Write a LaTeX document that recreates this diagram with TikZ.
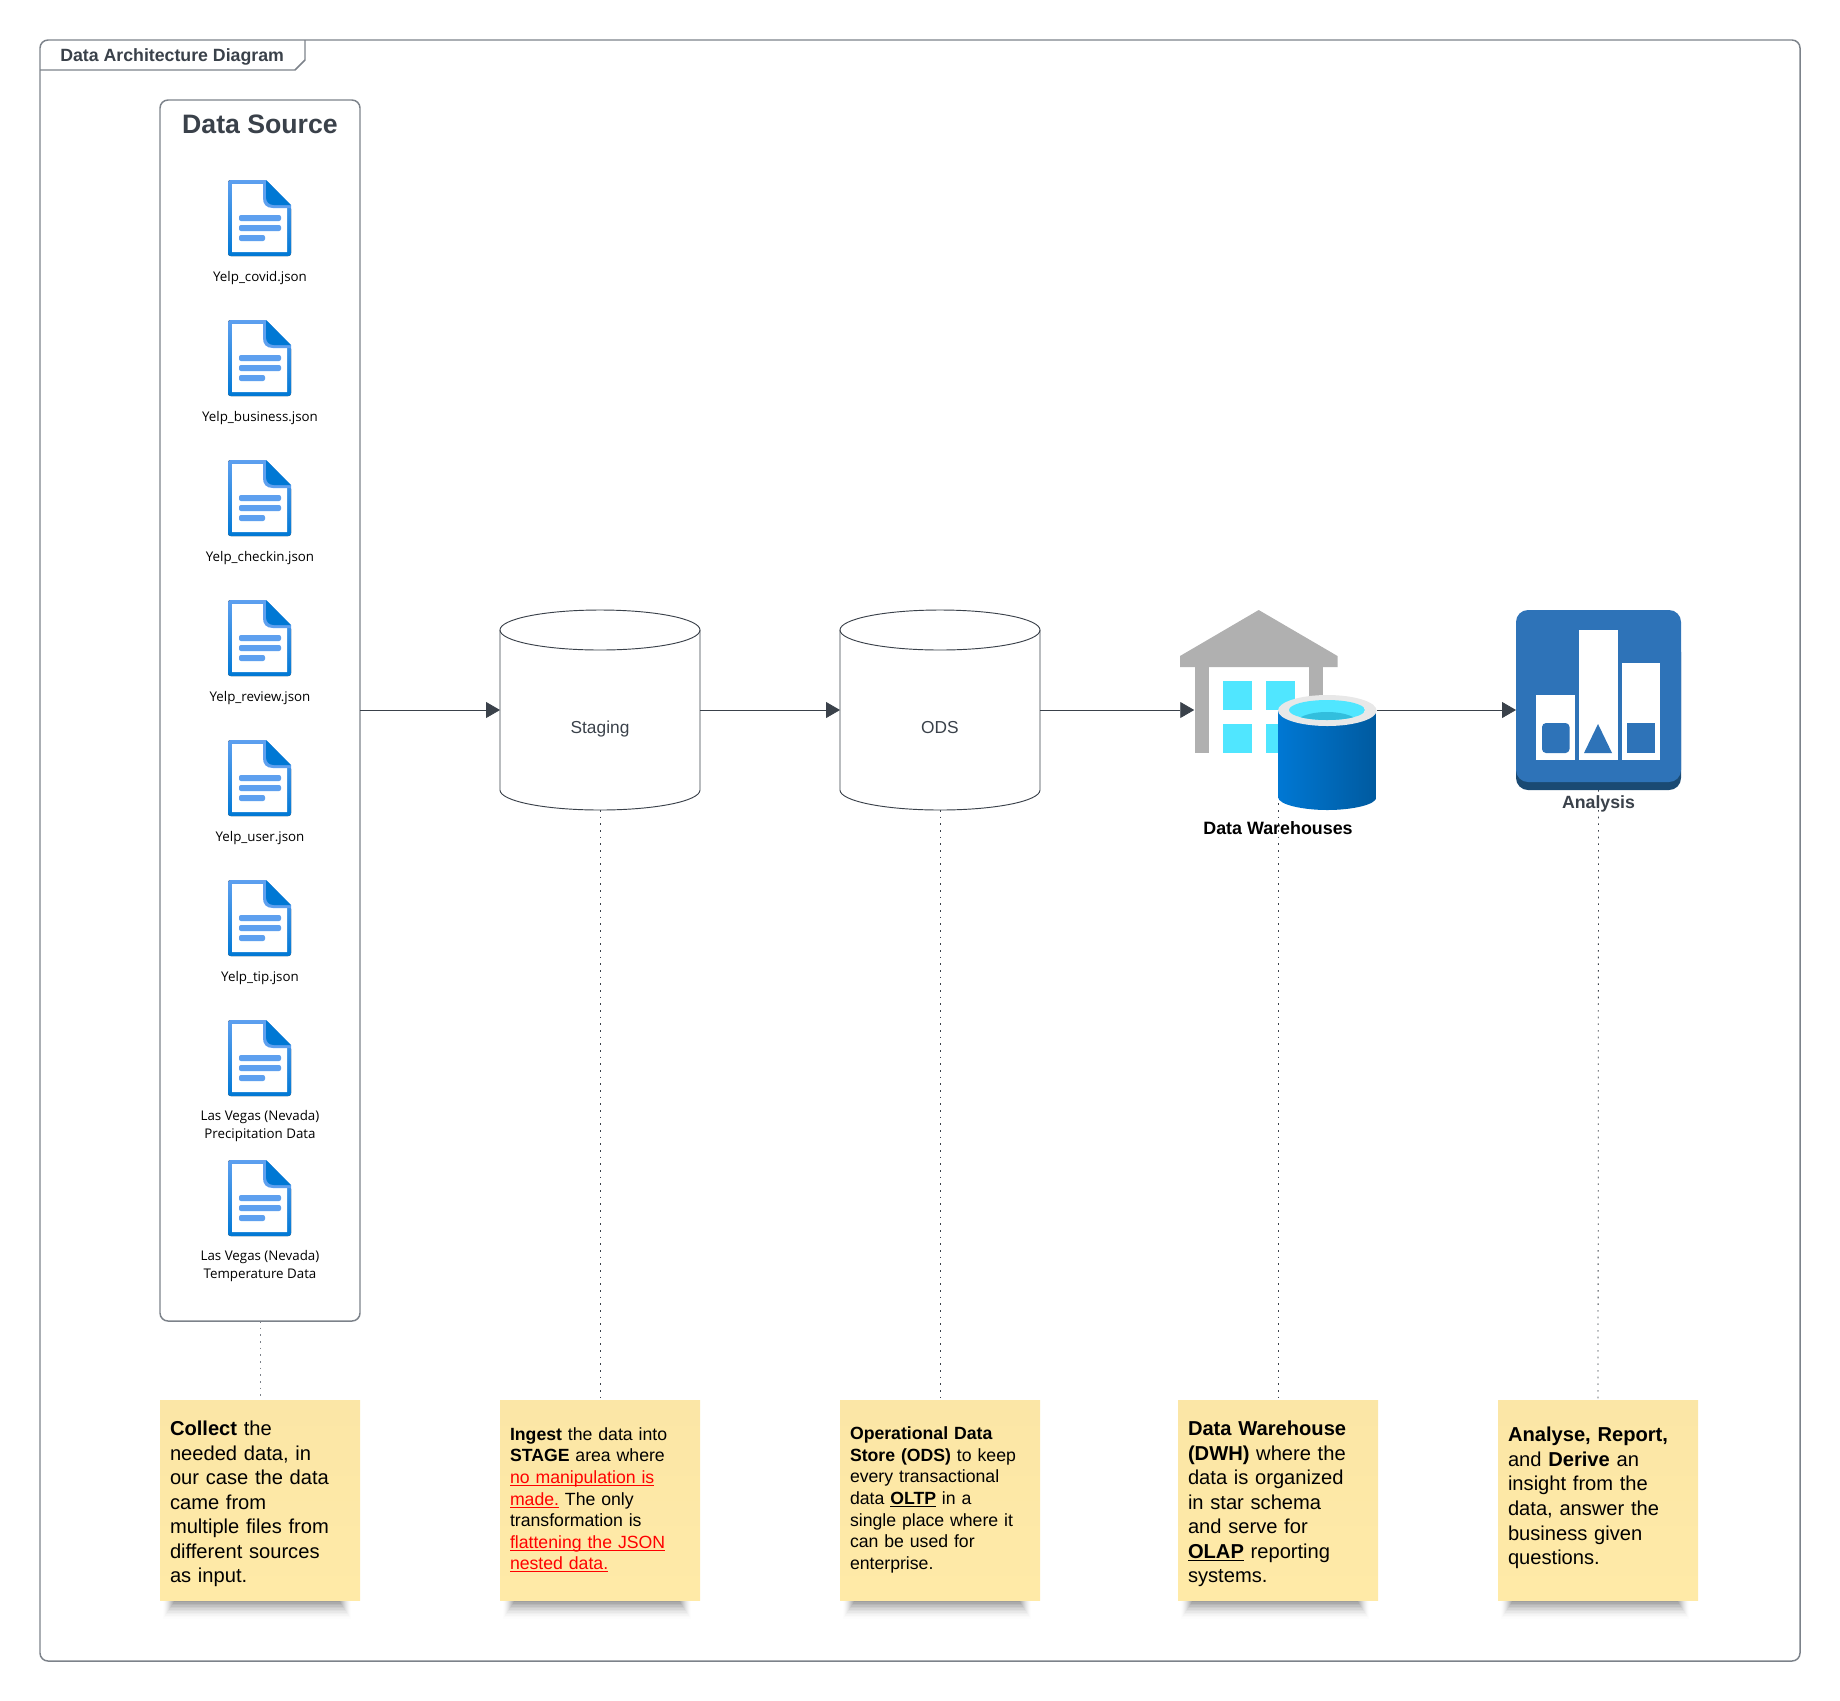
\documentclass[tikz,border=0pt]{standalone}
\usepackage{fontspec}
\setmainfont{Liberation Sans}
\newfontfamily\filefont{Open Sans}
\usetikzlibrary{arrows.meta}
\definecolor{slate}{HTML}{3A414A}
\definecolor{edgegrey}{HTML}{7C828A}
\definecolor{docblue}{HTML}{0078D4}
\definecolor{doclight}{HTML}{5EA0EF}
\definecolor{roofgrey}{HTML}{B0B0B0}
\definecolor{wincyan}{HTML}{50E6FF}
\definecolor{wintide}{HTML}{32BEDD}
\definecolor{anablue}{HTML}{2E73B8}
\definecolor{anadark}{HTML}{1A4A73}
\definecolor{notetop}{HTML}{FBE6A6}
\definecolor{notebot}{HTML}{FFEAA7}
\newcommand{\undl}[1]{\underline{\smash{#1}}}
\newcommand{\noteshade}[1]{%
  \foreach \s [evaluate=\s as \o using 0.006*\s] in {1,...,12}
    \fill [black, opacity=\o] (#1+2+\s,1596) rectangle (#1+192-\s,1620-1.5*\s);
}
\tikzset{
  docicon/.pic={
    \fill [top color=doclight, bottom color=docblue, rounded corners=2pt]
      (0,0) -- (38,0) -- (63,26) -- (63,76) -- (0,76) -- cycle;
    \fill [white] (4,4) -- (36,4) -- (36,18) -- (44,27) -- (59,27) -- (59,72) -- (4,72) -- cycle;
    \fill [doclight] (35,0) -- (38,0) -- (63,25) -- (63,28) -- (45,28) .. controls (38,28) and (35,24) .. (35,18) -- cycle;
    \fill [docblue] (38,0) -- (63,25) -- (46,25) .. controls (41,25) and (38,22) .. (38,17) -- cycle;
    \fill [doclight, rounded corners=1.5pt] (11,35) rectangle (53,41);
    \fill [doclight, rounded corners=1.5pt] (11,45) rectangle (53,51);
    \fill [doclight, rounded corners=1.5pt] (11,55) rectangle (37,61);
  },
  drumbody/.pic={
    \draw [slate, line width=0.7pt] (0,-80) ellipse [x radius=100, y radius=20];
    \draw [slate, line width=0.7pt] (-100,-80) -- (-100,80) arc [start angle=180, end angle=0, x radius=100, y radius=20] -- (100,-80);
  },
  filelabel/.style={font=\filefont\fontsize{10}{13.5}\selectfont, align=center, inner sep=0pt, text=black},
  drum/.style={minimum width=150pt, minimum height=150pt, inner sep=0pt, outer sep=0pt},
  drumtext/.style={anchor=base, inner sep=0pt, text=slate, font=\fontsize{13}{16}\selectfont},
  flow/.style={draw=slate, line width=0.6pt, -{Triangle[length=10.5pt,width=12pt]}},
  guide/.style={draw=slate, line width=0.6pt, dash pattern=on 1.2pt off 3.8pt},
  notebox/.style={top color=notetop, bottom color=notebot, minimum width=150pt, minimum height=150pt, inner sep=0pt},
  notebig/.style={text width=135pt, inner sep=0pt, align=left, text=black, font=\fontsize{15.1}{18.4}\selectfont},
  notesmall/.style={notebig, font=\fontsize{13.25}{16.2}\selectfont},
}
\begin{document}
\begin{tikzpicture}[x=0.75pt,y=-0.75pt]
\useasboundingbox (0,0) rectangle (1840,1700);
\draw [edgegrey, line width=1.1pt, rounded corners=6pt] (40,40) rectangle (1800,1661);
\draw [edgegrey, line width=1.1pt] (40,70) -- (295,70) -- (305,60) -- (305,40);
\node [anchor=west, inner sep=0pt, text=slate, font=\bfseries\fontsize{13.3}{16}\selectfont] (frametitle) at (60,56.5) {Data Architecture Diagram};
\node [draw=edgegrey, line width=1.1pt, rounded corners=6pt, minimum width=150pt, minimum height=915.75pt, inner sep=0pt, outer sep=0pt] (source) at (260,710.5) {};
\node [text=slate, inner sep=0pt, font=\bfseries\fontsize{20}{24}\selectfont] (sourcetitle) at (260,124) {Data Source};
\pic at (228,180) {docicon};
\pic at (228,320) {docicon};
\pic at (228,460) {docicon};
\pic at (228,600) {docicon};
\pic at (228,740) {docicon};
\pic at (228,880) {docicon};
\pic at (228,1020) {docicon};
\pic at (228,1160) {docicon};
\node [filelabel] (covid) at (260,278) {Yelp\_covid.json};
\node [filelabel] (business) at (260,418) {Yelp\_business.json};
\node [filelabel] (checkin) at (260,558) {Yelp\_checkin.json};
\node [filelabel] (review) at (260,698) {Yelp\_review.json};
\node [filelabel] (user) at (260,838) {Yelp\_user.json};
\node [filelabel] (tip) at (260,978) {Yelp\_tip.json};
\node [filelabel] (precip) at (260,1126) {Las Vegas (Nevada)\\Precipitation Data};
\node [filelabel] (temp) at (260,1266) {Las Vegas (Nevada)\\Temperature Data};
\pic at (600,710) {drumbody};
\pic at (940,710) {drumbody};
\node [drum] (staging) at (600,710) {};
\node [drum] (ods) at (940,710) {};
\node [drumtext] (stagingtext) at (600,733) {Staging};
\node [drumtext] (odstext) at (940,733) {ODS};
\node [minimum width=136.9pt, minimum height=150pt, inner sep=0pt, outer sep=0pt] (dwh) at (1285.5,710) {};
\coordinate (dwhfoot) at (1278.5,790);
\node [minimum width=123.75pt, minimum height=135pt, inner sep=0pt, outer sep=0pt] (analysis) at (1598.5,700) {};
\noteshade{160}
\noteshade{500}
\noteshade{840}
\noteshade{1178}
\noteshade{1498}
\node [notebox] (notecollect) at (260,1500) {};
\node [notebox] (noteingest) at (600,1500) {};
\node [notebox] (noteods) at (940,1500) {};
\node [notebox] (notedwh) at (1278,1500) {};
\node [notebox] (noteana) at (1598,1500) {};
\node [notebig] (textcollect) at (260,1504) {\textbf{Collect} the\\needed data, in\\our case the data\\came from\\multiple files from\\different sources\\as input.};
\node [notesmall] (textingest) at (600,1500) {\textbf{Ingest} the data into\\\textbf{STAGE} area where\\\textcolor{red}{\undl{no manipulation is}}\\\textcolor{red}{\undl{made.}} The only\\transformation is\\\textcolor{red}{\undl{flattening the JSON}}\\\textcolor{red}{\undl{nested data.}}};
\node [notesmall] (textods) at (940,1500) {\textbf{Operational Data}\\\textbf{Store (ODS)} to keep\\every transactional\\data \textbf{\undl{OLTP}} in a\\single place where it\\can be used for\\enterprise.};
\node [notebig] (textdwh) at (1278,1504) {\textbf{Data Warehouse}\\\textbf{(DWH)} where the\\data is organized\\in star schema\\and serve for\\\textbf{\undl{OLAP}} reporting\\systems.};
\node [notebig] (textana) at (1598,1498) {\textbf{Analyse, Report,}\\and \textbf{Derive} an\\insight from the\\data, answer the\\business given\\questions.};
\draw [guide, edgegrey] (source.south) -- (notecollect.north);
\draw [guide] (staging.south) -- (noteingest.north);
\draw [guide] (ods.south) -- (noteods.north);
\draw [guide] (dwhfoot) -- (dwhfoot |- notedwh.north);
\draw [guide] (analysis.south) -- (noteana.north);
\draw [flow] (source.east |- staging.west) -- (staging.west);
\draw [flow] (staging.east) -- (ods.west);
\draw [flow] (ods.east) -- (dwh.west);
\draw [flow] (dwh.east) -- (dwh.east -| analysis.west);
\fill [roofgrey] (1258.7,610) -- (1337.5,656) -- (1337.5,667) -- (1180,667) -- (1180,656) -- cycle;
\fill [roofgrey] (1195,667) rectangle (1208.5,753);
\fill [roofgrey] (1309,667) rectangle (1323,753);
\fill [wincyan] (1223,681) rectangle (1252,710);
\fill [wincyan] (1266,681) rectangle (1294.7,710);
\fill [wincyan] (1223,724) rectangle (1252,753);
\fill [wincyan] (1266,724) rectangle (1294.7,753);
\shade [left color=docblue, right color=docblue!75!black, shading angle=90]
  (1278,710) -- (1278,797) .. controls (1278,805) and (1304,810) .. (1327.3,810) .. controls (1351,810) and (1376.5,805) .. (1376.5,797) -- (1376.5,710) -- cycle;
\fill [black!9] (1327.3,710.5) ellipse [x radius=49.3, y radius=15.5];
\begin{scope}
\clip (1327,710) ellipse [x radius=38, y radius=10];
\fill [wincyan] (1289,700) rectangle (1365,720);
\fill [wintide] (1327,724) ellipse [x radius=32, y radius=12];
\end{scope}
\node [inner sep=0pt, text=black, font=\bfseries\fontsize{13.4}{16}\selectfont] (dwhlabel) at (1278,828) {Data Warehouses};
\fill [anadark, rounded corners=9pt] (1516,640) rectangle (1681,790);
\fill [anablue, rounded corners=9pt] (1516,610) rectangle (1681,782);
\fill [white] (1536,695) rectangle (1575,760);
\fill [white] (1579,630) rectangle (1618,760);
\fill [white] (1621.5,663) rectangle (1660,760);
\fill [anablue, rounded corners=3pt] (1542,723) rectangle (1569.5,753);
\fill [anablue] (1598,724) -- (1612,753) -- (1584,753) -- cycle;
\fill [anablue] (1627,723) rectangle (1655,753);
\node [inner sep=0pt, text=slate, font=\bfseries\fontsize{13.3}{16}\selectfont] (analysislabel) at (1598.5,804) {Analysis};
\end{tikzpicture}
\end{document}
